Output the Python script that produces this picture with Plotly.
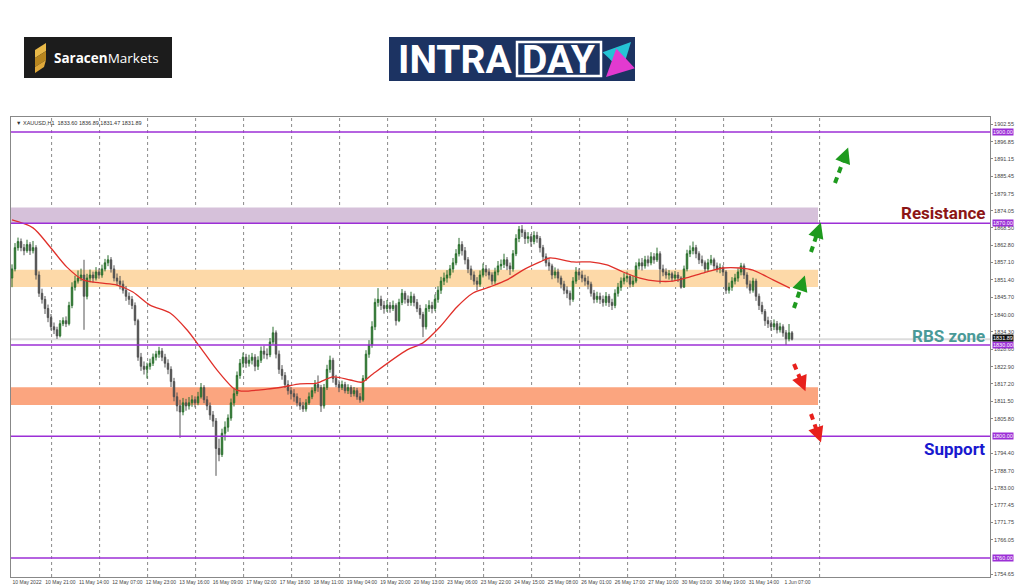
import plotly.graph_objects as go

# ---------------- data ----------------
first_open = 1852.0
close = [1855,1862,1864,1862,1861,1863,1861,1862,1853,1847,1845,1842,1839,1836,1835,1833,1837,1838,1837,1843,
1849,1851,1852,1853,1846,1852,1853,1852,1854,1853,1855,1857,1858,1855,1852,1851,1850,1848,1846,1845,
1843,1838,1826,1823,1822,1823,1824,1826,1827,1828,1826,1824,1822,1818,1813,1810,1808,1811,1810,1811,
1812,1811,1813,1816,1812,1810,1807,1805,1796,1794,1801,1803,1806,1811,1814,1820,1824,1826,1824,1825,
1826,1823,1825,1828,1827,1826.8,1831,1834,1827,1822,1820,1817,1815,1814,1813,1811,1810,1809,1811,1813,
1815,1817,1816,1810,1816,1822,1825,1819,1817,1816,1817,1815,1816,1814,1815,1813,1812,1819,1827,1830,
1836,1844,1845,1843,1842,1843,1842,1843,1838,1844,1847,1845,1844,1846,1844,1842,1840,1836,1842,1843,
1842,1845,1848,1851,1852,1853,1855,1857,1860,1863,1861,1858,1855,1853,1851,1850,1853,1855,1854,1853,
1851,1854,1856,1856.5,1858,1856,1855,1860,1865,1868,1867,1865,1865.6,1864,1866,1865,1862,1859,1857,1856,
1853,1854,1852,1850,1848,1847,1845,1851,1854,1853,1852,1851,1850,1847,1845,1846,1845,1844,1846,1844,
1843,1847,1849,1851,1852,1852.5,1850,1851,1856,1857,1856,1858,1857,1859,1858,1860,1855,1854,1853,1853.4,
1852,1853,1852,1849,1855,1860,1861,1862,1860,1858,1857,1855,1857,1858,1856,1855,1855.4,1854,1848,1849,
1851,1852,1854,1856,1853,1850,1848,1851,1846,1843,1841,1838,1837,1836,1837,1835,1836,1834,1832,1834,
1831.89]
high = [1856.5,1863.5,1865.3,1865,1863.2,1864.6,1863.8,1864.2,1862.8,1854.2,1848.5,1846.1,1843.3,1840.2,1837.4,1836,1838.2,1839.1,1839.4,1844.2,
1850.6,1852.8,1854.5,1855.1,1858,1853.4,1854.8,1854.1,1855.6,1855.2,1856.4,1858.3,1859.5,1858.9,1856.2,1853.5,1852.7,1851.2,1849.4,1847.3,
1846.1,1844,1838.6,1827.4,1824.6,1824.2,1825.5,1827.2,1828.1,1829.4,1829,1827.1,1825.3,1823,1819.2,1814.4,1812,1812.6,1812.3,1812.9,
1813.5,1813.1,1814.6,1817.5,1816.8,1813.2,1811.1,1808.3,1806,1799.2,1802.5,1804.9,1807.2,1812.4,1815.6,1821.3,1825.4,1827.5,1827.1,1826.8,
1827.4,1827,1826.3,1829.5,1829.8,1828.9,1832.3,1836,1834.8,1828.2,1823.4,1821.1,1818.4,1816.2,1815.5,1814.1,1812.6,1811.3,1812.2,1814.4,
1816.1,1818.5,1820,1816.9,1817.2,1823.5,1826.5,1825.8,1820.2,1818.4,1818.3,1817.9,1817.1,1816.8,1816.2,1815.9,1814.2,1820.1,1828.3,1831.6,
1837.8,1845.3,1848.7,1846.2,1844.5,1844.8,1844.1,1844.6,1843.7,1845.2,1848.4,1847.8,1846.3,1847.5,1846.9,1845.1,1843.2,1840.9,1843.4,1844.7,
1844.2,1846.6,1849.3,1852.4,1853.8,1854.6,1856.3,1858.6,1861.5,1865.2,1864.1,1862.2,1858.9,1856.1,1854.2,1852.3,1854.5,1856.8,1856.3,1855.2,
1853.9,1855.4,1857.6,1858.1,1860,1858.9,1857.1,1861.2,1866.4,1869.1,1869.4,1867.9,1867.1,1866.5,1867.4,1867.2,1865.8,1862.9,1860.1,1858.2,
1856.7,1855.5,1855.1,1852.8,1851.1,1849.3,1847.9,1852.3,1855.6,1855.2,1854.4,1853.1,1852.6,1850.8,1848.1,1847.5,1847.2,1846.3,1847.4,1846.8,
1845.2,1848.3,1850.4,1852.2,1853.6,1854.1,1853.2,1852.7,1857.2,1858.4,1858.6,1859.3,1859.4,1860.5,1860.2,1862,1860.8,1856.4,1855.2,1854.6,
1854.1,1854.3,1854,1852.6,1856.1,1861.3,1862.7,1864,1862.9,1860.8,1859.4,1857.8,1858.3,1859.6,1858.7,1857.1,1856.8,1856.2,1854.6,1850.5,
1852.3,1853.4,1855.2,1857,1856.8,1853.9,1851.2,1852.1,1851.8,1846.9,1844.2,1841.8,1839.3,1838.2,1838.4,1837.9,1837.3,1836.8,1834.9,1836.9,
1834.6]
low = [1849,1854.2,1861,1860.8,1859.5,1860.3,1859.6,1860.1,1851.5,1845.8,1843.6,1840.2,1837.5,1834.8,1833.6,1832,1832.5,1836.2,1835.9,1836.4,
1842.1,1847.9,1850.2,1851,1835,1845,1850.6,1850.5,1851.2,1851.8,1852.1,1854.2,1855.9,1853.8,1850.9,1849.6,1848.3,1846.9,1844.5,1843.2,
1841.8,1836.5,1824.8,1821.5,1820.3,1819,1821.9,1823.1,1824.9,1825.8,1824.7,1822.6,1820.4,1816.2,1811.5,1808.2,1799.5,1806.9,1808.4,1808.8,
1809.7,1809.5,1810.2,1812.4,1810.9,1808.6,1805.4,1803.1,1787,1791.8,1793.2,1798.6,1801.5,1805.1,1809.8,1813.2,1818.9,1822.6,1822.5,1822.9,
1823.6,1821.4,1821.8,1824.1,1825.5,1825.3,1826,1830.1,1825.6,1820.5,1818.6,1815.9,1813.7,1812.1,1811.4,1809.8,1808.7,1808,1808.1,1810.3,
1812.2,1814.1,1814.6,1808,1809.1,1815.2,1820.9,1817.6,1816.1,1814.5,1815.2,1814.1,1813.9,1812.9,1813.1,1812,1811,1811.4,1818.2,1825.8,
1829.1,1834.9,1842.6,1841.5,1840.3,1840.9,1840.6,1841.2,1836.4,1837.5,1843.1,1843.6,1842.8,1842.9,1842.7,1840.8,1838.6,1832.6,1835.1,1840.9,
1840.4,1841.1,1843.9,1846.8,1849.7,1850.5,1851.9,1853.8,1856.2,1859.1,1859.4,1856.5,1853.6,1851.4,1849.8,1848,1849.1,1852.2,1852.6,1851.5,
1849.8,1850.1,1852.9,1854.7,1855.3,1854.6,1853,1854.1,1859.2,1863.8,1865.5,1863.2,1863.4,1862.3,1863.1,1863.6,1860.4,1857.6,1855.8,1854.4,
1851.6,1851.9,1850.5,1848.6,1846.7,1845.4,1843,1844.2,1850.1,1851.4,1850.6,1849.5,1848.3,1845.9,1843.7,1843.9,1843.5,1842.6,1842.9,1842.5,
1841.5,1842.1,1845.9,1847.8,1849.9,1850.6,1848.9,1849.1,1850.3,1854.8,1854.5,1855.1,1855.8,1856.2,1856.7,1857.3,1850.2,1852.6,1851.8,1851.5,
1850.9,1851.2,1850.7,1848.5,1848.9,1854.2,1858.9,1859.8,1858.5,1856.6,1855.9,1853.9,1854.1,1856.2,1854.8,1853.9,1853.6,1852.7,1846.8,1846.9,
1847.8,1849.9,1850.8,1852.9,1851.7,1848.6,1846.9,1847.2,1844.5,1841.5,1840.1,1836.3,1835.6,1834.7,1834.9,1833.8,1834.1,1832.7,1830,1831.2,
1831.47]
open_ = [first_open] + close[:-1]
bars = list(range(len(close)))

# moving average (bar index, value)
ma_bar = [0,7,12.7,18.3,23.7,29.3,35,40.3,46,52.7,58.3,62.7,68.3,73.7,76,85,90.3,96,101.7,107,112.7,116.7,120.3,
          131.7,137,142.7,148.3,153.7,159.3,165,170.3,176,179.3,187,192.7,198.3,203.7,209.3,215,220.3,226,231.7,237,242.7,247,253.7,259.3]
ma_val = [1871.1,1868.5,1862.2,1855.6,1851.4,1850.4,1849.7,1847.4,1843.1,1840.5,1835,1829.3,1821.8,1815.9,1814.9,1815.5,1816.2,1817.2,1817.5,1819.5,1818.5,1817.8,1820.5,
          1828.4,1830.7,1836,1842.5,1847.1,1849.1,1851.4,1854.6,1857.3,1858.6,1857.3,1857.3,1856.3,1854,1852,1851,1851,1852.4,1854,1855.3,1855.3,1854.6,1851.4,1848.7]

date_labels = ["10 May 2022","10 May 21:00","11 May 14:00","12 May 07:00","12 May 23:00","13 May 16:00",
               "16 May 09:00","17 May 02:00","17 May 18:00","18 May 11:00","19 May 04:00","19 May 20:00",
               "20 May 13:00","23 May 06:00","23 May 22:00","24 May 15:00","25 May 08:00","26 May 01:00",
               "26 May 17:00","27 May 10:00","30 May 03:00","30 May 19:00","31 May 14:00","1 Jun 07:00"]
price_ticks = [1902.55,1896.85,1891.15,1885.45,1879.75,1874.05,1868.50,1862.80,1857.10,1851.40,1845.70,1840.00,
               1834.30,1828.60,1822.90,1817.20,1811.50,1805.80,1794.40,1788.70,1783.00,1777.45,1771.75,1766.05,1754.65]
key_levels = [1900.00, 1870.00, 1830.00, 1800.00, 1760.00]
zones = {"resistance": (1870.0, 1875.2), "mid": (1849.1, 1854.7), "lower": (1810.3, 1816.1)}
last_price = 1831.89

# ---------------- geometry helpers ----------------
L, R, T, B = 11, 990, 117, 577
W, H = 1024, 587
def px(x): return (x - L) / (R - L)
def py(y): return (B - y) / (B - T)
slot_px = 3.0      # pixels per bar slot
def sx(x): return (x - 12) / slot_px   # pixel -> bar index
y_top, y_bot = 1904.93, 1753.76
def sp(y): return y_top - (y - T) * (y_top - y_bot) / (B - T)   # pixel -> price

fig = go.Figure()

fig.add_trace(go.Candlestick(
    x=bars, open=open_, high=high, low=low, close=close,
    increasing=dict(line=dict(color="#2b6e2e", width=1), fillcolor="#358a38"),
    decreasing=dict(line=dict(color="#555555", width=1), fillcolor="#333333"),
    whiskerwidth=0, showlegend=False, hoverinfo="skip"))

fig.add_trace(go.Scatter(x=ma_bar, y=ma_val, mode="lines",
                         line=dict(color="#e0302a", width=1.3, shape="spline", smoothing=0.8),
                         showlegend=False, hoverinfo="skip"))

shapes = []
zone_colors = {"resistance": "#d6c1da", "mid": "#fdd9a8", "lower": "#fba57f"}
zone_end = sx(818)
for k, (lo, hi) in zones.items():
    shapes.append(dict(type="rect", xref="x", yref="y", x0=-0.4, x1=zone_end, y0=lo, y1=hi,
                       fillcolor=zone_colors[k], line=dict(width=0), layer="below"))
# daily separators
for k in range(17):
    xs = sx(51.6 + 48.0 * k)
    shapes.append(dict(type="line", xref="x", yref="paper", x0=xs, x1=xs, y0=0, y1=1,
                       line=dict(color="#8a8a8a", width=1, dash="dot"), layer="below"))
# bid line
shapes.append(dict(type="line", xref="paper", yref="y", x0=0, x1=1, y0=last_price, y1=last_price,
                   line=dict(color="#dcdcdc", width=2), layer="below"))
for lv in key_levels:
    shapes.append(dict(type="line", xref="paper", yref="y", x0=0, x1=1, y0=lv, y1=lv,
                       line=dict(color="#9c2fd6", width=1.6)))

# dashed projection arrows (pixel positions of the reference)
arrows = [((794, 308), (802, 284), "#1e9a1e"),
          ((811, 252), (818, 231), "#1e9a1e"),
          ((835, 183), (845, 156), "#1e9a1e"),
          ((794, 364), (802, 383), "#e8201c"),
          ((811, 414), (818, 434), "#e8201c")]
annotations = []
for (x0, y0), (x1, y1), c in arrows:
    shapes.append(dict(type="line", xref="x", yref="y", x0=sx(x0), y0=sp(y0), x1=sx(x1), y1=sp(y1),
                       line=dict(color=c, width=4, dash="6px,5px")))
    dx, dy = x1 - x0, y1 - y0
    n = (dx * dx + dy * dy) ** 0.5
    annotations.append(dict(x=sx(x1 + dx / n * 9), y=sp(y1 + dy / n * 9), xref="x", yref="y",
                            ax=-dx / n * 11, ay=-dy / n * 11, text="", showarrow=True,
                            arrowhead=2, arrowsize=1.2, arrowwidth=2.6, arrowcolor=c))

# ---------- logos ----------
shapes.append(dict(type="rect", xref="paper", yref="paper", x0=px(24), x1=px(172), y0=py(78), y1=py(37),
                   fillcolor="#1c1c1c", line=dict(width=0)))
def path(points):
    return "M " + " L ".join(f"{px(a):.5f},{py(b):.5f}" for a, b in points) + " Z"
shapes.append(dict(type="path", xref="paper", yref="paper", path=path([(46, 43), (35, 50), (35, 58), (46, 51)]),
                   fillcolor="#e9b949", line=dict(width=0)))
shapes.append(dict(type="path", xref="paper", yref="paper", path=path([(35, 58), (46, 51), (46, 60), (35, 67)]),
                   fillcolor="#b8861f", line=dict(width=0)))
shapes.append(dict(type="path", xref="paper", yref="paper", path=path([(46, 60), (35, 67), (35, 73), (44, 67)]),
                   fillcolor="#e0a93a", line=dict(width=0)))
annotations.append(dict(x=px(52), y=py(57.5), xref="paper", yref="paper", xanchor="left", yanchor="middle",
                        text="<b>Saracen</b>Markets", showarrow=False,
                        font=dict(family="Open Sans", size=13.5, color="white")))
shapes.append(dict(type="rect", xref="paper", yref="paper", x0=px(389), x1=px(635), y0=py(81), y1=py(37),
                   fillcolor="#1c3362", line=dict(width=0)))
shapes.append(dict(type="rect", xref="paper", yref="paper", x0=px(517), x1=px(601), y0=py(76), y1=py(42),
                   fillcolor="#1c3362", line=dict(color="white", width=2.5)))
annotations.append(dict(x=px(455), y=py(59.5), xref="paper", yref="paper", xanchor="center", yanchor="middle",
                        text="<b>INTRA</b>", showarrow=False,
                        font=dict(family="Roboto", size=39, color="white")))
annotations.append(dict(x=px(559), y=py(59.5), xref="paper", yref="paper", xanchor="center", yanchor="middle",
                        text="<b>DAY</b>", showarrow=False,
                        font=dict(family="Roboto", size=39, color="white")))
annotations.append(dict(x=px(631), y=py(42), xref="paper", yref="paper", ax=-20, ay=21, text="",
                        showarrow=True, arrowhead=2, arrowsize=0.9, arrowwidth=6, arrowcolor="#25c4d4"))
annotations.append(dict(x=px(606), y=py(77), xref="paper", yref="paper", ax=20, ay=-19, text="",
                        showarrow=True, arrowhead=2, arrowsize=0.9, arrowwidth=6, arrowcolor="#e23ad0"))

# ---------- chart texts ----------
annotations.append(dict(x=px(14), y=py(123), xref="paper", yref="paper", xanchor="left", yanchor="middle",
                        text="▼ XAUUSD,H1  1833.60 1836.89 1831.47 1831.89", showarrow=False,
                        font=dict(family="Liberation Sans", size=5.5, color="#333")))
for txt, yy, col in [("Resistance", 213, "#8c1515"), ("RBS zone", 336, "#4a9a98"), ("Support", 449, "#1818cf")]:
    annotations.append(dict(x=px(987), y=py(yy), xref="paper", yref="paper", xanchor="right", yanchor="middle",
                            text=f"<b>{txt}</b>", showarrow=False,
                            font=dict(family="Roboto", size=17, color=col, weight=900)))
for lv in key_levels:
    annotations.append(dict(x=px(992), y=lv, xref="paper", yref="y", xanchor="left", yanchor="middle",
                            text=f"{lv:.2f}", showarrow=False, bgcolor="#9c2fd6", borderpad=0,
                            font=dict(family="Liberation Sans", size=5.5, color="white")))
annotations.append(dict(x=px(992), y=last_price + 0.45, xref="paper", yref="y", xanchor="left", yanchor="middle",
                        text=f"{last_price:.2f}", showarrow=False, bgcolor="#111", borderpad=0,
                        font=dict(family="Liberation Sans", size=5.5, color="white")))

label_pos = [sx(12 + 33.5 * k + 15) for k in range(len(date_labels))]

fig.update_layout(
    width=W, height=H, margin=dict(l=L, r=W - R, t=T, b=H - B, autoexpand=False),
    paper_bgcolor="white", plot_bgcolor="white",
    shapes=shapes, annotations=annotations, showlegend=False,
    xaxis=dict(range=[sx(L), sx(R)], rangeslider=dict(visible=False), showgrid=False, zeroline=False,
               tickvals=label_pos, ticktext=date_labels, ticks="", ticklen=0, tickangle=0, automargin=False,
               tickfont=dict(family="Liberation Sans", size=5, color="#444"),
               showline=True, linecolor="#888", linewidth=1, mirror=True),
    yaxis=dict(range=[y_bot, y_top], side="right", showgrid=False, zeroline=False, automargin=False,
               tickvals=price_ticks, ticktext=[f"{v:.2f}" for v in price_ticks],
               ticks="outside", ticklen=2, tickcolor="#888",
               tickfont=dict(family="Liberation Sans", size=5.5, color="#444"),
               showline=True, linecolor="#888", linewidth=1, mirror=True),
)

fig.write_html("out.html", config={"displayModeBar": False},
               post_script="document.body.style.margin='0px';document.body.style.overflow='hidden';")
